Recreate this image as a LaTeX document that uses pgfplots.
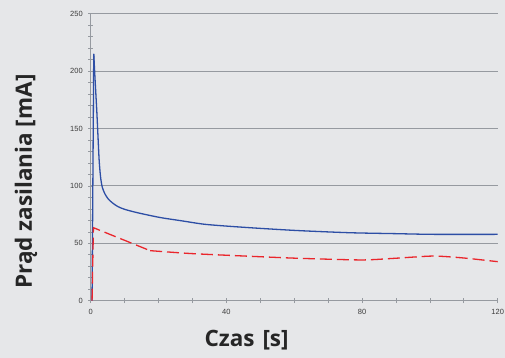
\documentclass[border=0pt]{standalone}
\usepackage{pgfplots}
\pgfplotsset{compat=1.18}
\usepackage{fontspec}
\setmainfont{Liberation Sans}
\newfontfamily\labelfont{Open Sans}
\definecolor{bg}{RGB}{230,231,233}
\definecolor{gridc}{RGB}{150,154,160}
\definecolor{blueline}{RGB}{45,78,165}
\definecolor{redline}{RGB}{234,38,44}
\definecolor{tickc}{RGB}{60,60,60}
\begin{document}
\begin{tikzpicture}
\fill[bg] (-90.7bp,-57.3bp) rectangle (414.3bp,300.7bp);
\begin{axis}[
  at={(0,0)}, anchor=south west,
  scale only axis, width=407bp, height=287bp,
  xmin=0, xmax=120, ymin=0, ymax=250,
  axis x line=bottom, axis y line=left,
  axis line style={gridc, line width=0.8bp, -},
  xtick={0,40,80,120}, minor xtick={10,20,30,50,60,70,90,100,110},
  ytick={0,50,100,150,200,250}, minor ytick={10,20,30,40,60,70,80,90,110,120,130,140,160,170,180,190,210,220,230,240},
  tick align=center,
  major tick length=5bp, minor tick length=5bp,
  tick style={gridc, line width=0.6bp},
  ymajorgrids, grid style={gridc, line width=0.8bp},
  /pgf/number format/assume math mode=true,
  ticklabel style={font=\fontsize{7.5bp}{9bp}\selectfont, text=tickc},
  xticklabel style={yshift=-3bp},
  yticklabel style={xshift=-2bp},
  xlabel={Czas\hspace{0.35em}[s]},
  ylabel={Prąd zasilania [mA]},
  label style={font=\labelfont\bfseries\fontsize{22.5bp}{26bp}\selectfont, text=black!85},
  xlabel style={at={(axis description cs:0.383,-0.137)}, anchor=center},
  ylabel style={at={(axis description cs:-0.159,0.415)}, anchor=center, rotate=0},
  clip=false,
]
\addplot[blueline, line width=1.3bp] coordinates {(0.4,0) (0.9,215)};
\addplot[blueline, line width=1.3bp, smooth, tension=0.45] coordinates {
(0.9,215) (1.3,192) (1.8,165) (2.2,140) (2.5,122) (2.9,108) (3.4,99) (4.2,93) (5.2,88.5) (6.5,85) (8,82) (10.1,79.5) (14,76.5) (20.4,72.5) (27,69.5) (33.2,66.7) (40,65) (50,63) (61.7,61) (76.5,59.2) (90,58.4) (101,57.8) (120,57.8)
};
\addplot[redline, line width=1.3bp, dash pattern=on 12bp off 5bp] coordinates {
(0.4,0) (0.8,63.6) (17.5,43.6)
};
\addplot[redline, line width=1.3bp, dash pattern=on 12bp off 5bp, smooth, tension=0.4] coordinates {
(17.5,43.6) (30,41) (50,38.3) (61.7,36.9) (80,35.5) (90,37) (101,38.9) (110,37.2) (120,34)
};
\end{axis}
\pgfresetboundingbox
\useasboundingbox (-90.7bp,-57.3bp) rectangle (414.3bp,300.7bp);
\end{tikzpicture}
\end{document}
